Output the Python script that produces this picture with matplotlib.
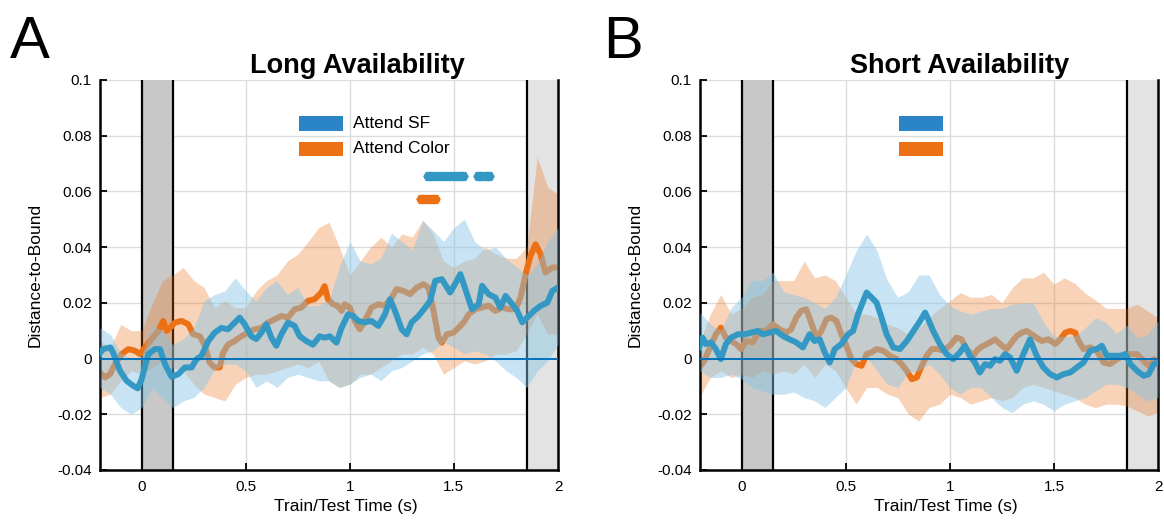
import numpy as np
import matplotlib
matplotlib.use('Agg')
import matplotlib.pyplot as plt
from matplotlib.patches import Rectangle

plt.rcParams['font.family'] = ['Liberation Sans', 'DejaVu Sans']

# ---- data ----
# Long availability: mean lines
long_sf_t = [-0.2, -0.184, -0.15, -0.136, -0.104, -0.072, -0.04, -0.019, 0, 0.032, 0.064, 0.088,
             0.112, 0.144, 0.176, 0.208, 0.24, 0.264, 0.288, 0.32, 0.351, 0.383, 0.415, 0.447,
             0.471, 0.495, 0.527, 0.551, 0.575, 0.599, 0.623, 0.647, 0.671, 0.703, 0.735, 0.759,
             0.791, 0.823, 0.855, 0.879, 0.904, 0.936, 0.96, 0.992, 1.016, 1.04, 1.072, 1.104,
             1.137, 1.169, 1.193, 1.217, 1.249, 1.273, 1.297, 1.33, 1.362, 1.386, 1.41, 1.442,
             1.482, 1.514, 1.531, 1.555, 1.587, 1.619, 1.635, 1.667, 1.699, 1.723, 1.748, 1.78,
             1.804, 1.828, 1.852, 1.884, 1.916, 1.949, 1.973, 2.0]
long_sf = [0.002, 0.0034, 0.004, 0.002, -0.0044, -0.008, -0.0098, -0.0107, -0.0074, 0.0016, 0.0034, 0.0034,
           -0.002, -0.0066, -0.0056, -0.0032, -0.0032, -0.0002, 0.001, 0.0063, 0.0093, 0.011, 0.0105, 0.0129,
           0.0147, 0.0123, 0.008, 0.007, 0.0093, 0.0123, 0.0075, 0.0046, 0.0087, 0.0129, 0.0117, 0.008,
           0.0063, 0.005, 0.008, 0.0075, 0.008, 0.0057, 0.011, 0.0159, 0.0153, 0.0135, 0.013, 0.0135,
           0.0117, 0.0159, 0.0213, 0.0171, 0.0105, 0.0087, 0.013, 0.0153, 0.0183, 0.0207, 0.0279, 0.0285,
           0.0237, 0.0279, 0.0303, 0.0249, 0.0177, 0.0195, 0.0261, 0.0231, 0.0219, 0.0183, 0.0225, 0.0195,
           0.0171, 0.013, 0.0147, 0.0171, 0.0189, 0.0201, 0.0243, 0.0255]

long_col_t = [-0.2, -0.176, -0.152, -0.128, -0.096, -0.064, -0.032, -0.008, 0.016, 0.048, 0.08, 0.104,
              0.12, 0.136, 0.16, 0.192, 0.224, 0.248, 0.28, 0.304, 0.327, 0.351, 0.375, 0.391,
              0.415, 0.447, 0.479, 0.511, 0.543, 0.575, 0.607, 0.639, 0.671, 0.703, 0.735, 0.767,
              0.799, 0.831, 0.863, 0.879, 0.895, 0.919, 0.94, 0.96, 0.976, 1.0, 1.024, 1.048,
              1.072, 1.104, 1.137, 1.169, 1.201, 1.225, 1.257, 1.289, 1.322, 1.354, 1.378, 1.402,
              1.426, 1.442, 1.466, 1.498, 1.522, 1.547, 1.571, 1.603, 1.635, 1.667, 1.699, 1.732,
              1.764, 1.796, 1.82, 1.844, 1.868, 1.892, 1.916, 1.94, 1.973, 2.0]
long_col = [-0.005, -0.0068, -0.0056, -0.002, 0.0016, 0.0034, 0.0028, 0.0016, 0.004, 0.007, 0.0099, 0.0135,
            0.0099, 0.011, 0.0129, 0.0135, 0.0123, 0.0087, 0.008, 0.0045, -0.0015, -0.0032, -0.0032, 0.002,
            0.005, 0.0063, 0.008, 0.0093, 0.0105, 0.011, 0.0129, 0.0141, 0.0153, 0.0147, 0.0177, 0.0183,
            0.0207, 0.0213, 0.0237, 0.026, 0.0213, 0.0195, 0.019, 0.0171, 0.0195, 0.0183, 0.0135, 0.0105,
            0.0135, 0.0183, 0.0195, 0.019, 0.0219, 0.0249, 0.0243, 0.0231, 0.0255, 0.0267, 0.0255, 0.0171,
            0.0075, 0.0057, 0.0087, 0.0093, 0.011, 0.013, 0.0159, 0.0177, 0.0183, 0.019, 0.0171, 0.0183,
            0.0177, 0.0177, 0.0219, 0.0303, 0.0369, 0.041, 0.0375, 0.0309, 0.0327, 0.0327]

# Short availability: mean lines
short_sf_t = [-0.204, -0.188, -0.172, -0.148, -0.124, -0.1, -0.076, -0.051, -0.019, 0.013, 0.045, 0.077,
              0.101, 0.133, 0.166, 0.198, 0.23, 0.262, 0.294, 0.326, 0.35, 0.375, 0.399, 0.423,
              0.447, 0.479, 0.511, 0.535, 0.559, 0.584, 0.6, 0.624, 0.648, 0.672, 0.696, 0.728,
              0.76, 0.793, 0.825, 0.857, 0.881, 0.896, 0.92, 0.952, 0.984, 1.016, 1.048, 1.072,
              1.096, 1.12, 1.144, 1.169, 1.193, 1.217, 1.241, 1.265, 1.289, 1.321, 1.353, 1.385,
              1.417, 1.449, 1.482, 1.514, 1.546, 1.578, 1.61, 1.642, 1.674, 1.706, 1.73, 1.754,
              1.787, 1.819, 1.843, 1.867, 1.899, 1.931, 1.955, 1.979, 2.0]
short_sf = [0.004, 0.0075, 0.0052, 0.0058, 0.0034, -0.0002, 0.0052, 0.0075, 0.0087, 0.0087, 0.0093, 0.0099,
            0.0087, 0.0093, 0.0099, 0.0081, 0.0069, 0.0058, 0.004, 0.0087, 0.0063, 0.0069, 0.0022, -0.0014,
            0.0034, 0.0052, 0.0087, 0.0099, 0.0159, 0.0207, 0.0237, 0.0219, 0.0201, 0.0147, 0.0087, 0.004,
            0.0034, 0.0063, 0.0099, 0.0135, 0.0165, 0.0141, 0.0099, 0.0052, 0.0016, -0.0002, 0.0022, 0.0046,
            0.001, -0.0014, -0.005, -0.002, -0.0026, -0.0002, -0.0008, 0.0016, 0.0004, -0.0044, 0.0016, 0.0069,
            0.001, -0.0032, -0.0056, -0.0068, -0.0056, -0.005, -0.0032, -0.0014, 0.0028, 0.0034, 0.0046, 0.001,
            0.001, 0.001, 0.0016, -0.002, -0.0044, -0.0062, -0.0056, -0.002, -0.0014]

short_col_t = [-0.204, -0.18, -0.148, -0.124, -0.1, -0.076, -0.051, -0.027, -0.003, 0.021, 0.053, 0.085,
               0.117, 0.15, 0.182, 0.214, 0.238, 0.262, 0.286, 0.31, 0.334, 0.359, 0.383, 0.407,
               0.431, 0.455, 0.479, 0.503, 0.527, 0.551, 0.576, 0.6, 0.624, 0.648, 0.68, 0.712,
               0.744, 0.768, 0.793, 0.817, 0.841, 0.865, 0.889, 0.913, 0.944, 0.968, 1.0, 1.032,
               1.056, 1.08, 1.112, 1.136, 1.161, 1.193, 1.217, 1.241, 1.273, 1.297, 1.321, 1.345,
               1.369, 1.393, 1.417, 1.441, 1.474, 1.506, 1.53, 1.554, 1.578, 1.602, 1.618, 1.642,
               1.674, 1.706, 1.738, 1.77, 1.802, 1.835, 1.867, 1.899, 1.931, 1.955, 1.979, 2.0]
short_col = [-0.0032, -0.0008, 0.0046, 0.0087, 0.0111, 0.0075, 0.0063, 0.0052, 0.0034, 0.0063, 0.0058, 0.0099,
             0.0099, 0.0123, 0.0105, 0.0093, 0.0105, 0.0147, 0.0171, 0.0177, 0.0129, 0.0075, 0.0099, 0.0141,
             0.0147, 0.0135, 0.0087, 0.0046, -0.0002, -0.002, -0.0026, 0.0016, 0.0022, 0.0034, 0.0028, 0.001,
             -0.0002, -0.002, -0.0044, -0.0074, -0.0068, -0.0026, 0.001, 0.0034, 0.0034, 0.0028, 0.0046, 0.0075,
             0.0069, 0.0034, 0.001, 0.0034, 0.0046, 0.0058, 0.0069, 0.0052, 0.0034, 0.0058, 0.0081, 0.0093,
             0.0099, 0.0087, 0.0075, 0.0063, 0.0069, 0.0052, 0.0069, 0.0093, 0.0099, 0.0093, 0.0063, 0.0034,
             0.004, 0.0028, -0.0014, -0.002, -0.0002, 0.001, 0.0016, 0.0016, -0.0008, -0.0026, -0.0002, -0.0014]

# confidence bands, sampled every 50 ms from -0.2 to 2.0 s
band_t = np.round(np.arange(-0.2, 2.001, 0.05), 2)

long_sf_hi = [0.011, 0.0087, 0.002, 0.0, 0.001, 0.012, 0.010, 0.005, 0.007, 0.011, 0.0207, 0.023,
              0.0243, 0.029, 0.0243, 0.0207, 0.0255, 0.028, 0.023, 0.0255, 0.019, 0.019, 0.021, 0.033,
              0.042, 0.035, 0.034, 0.036, 0.045, 0.042, 0.039, 0.0496, 0.046, 0.042, 0.047, 0.050,
              0.042, 0.039, 0.040, 0.036, 0.033, 0.030, 0.034, 0.042, 0.047]
long_sf_lo = [-0.0104, -0.0128, -0.0176, -0.020, -0.0176, -0.0104, -0.014, -0.0176, -0.0152, -0.014, -0.0104, -0.004,
              -0.002, -0.002, -0.0044, -0.0104, -0.008, -0.0104, -0.0068, -0.0056, -0.0068, -0.008, -0.008, -0.0104,
              -0.0092, -0.0068, -0.0056, -0.008, -0.0044, -0.0032, -0.0008, 0.0016, 0.0028, 0.006, 0.004, 0.0016,
              0.0028, 0.0016, -0.0008, -0.0044, -0.0068, -0.0104, -0.0044, -0.0008, 0.005]
long_col_hi = [0.0063, 0.004, 0.0123, 0.010, 0.010, 0.0195, 0.028, 0.030, 0.0327, 0.028, 0.0255, 0.0183,
               0.0207, 0.0183, 0.0183, 0.0243, 0.028, 0.030, 0.035, 0.0375, 0.042, 0.047, 0.049, 0.040,
               0.030, 0.035, 0.040, 0.0436, 0.040, 0.0448, 0.0436, 0.0496, 0.0448, 0.035, 0.0328, 0.035,
               0.036, 0.040, 0.0376, 0.036, 0.036, 0.040, 0.0724, 0.0616, 0.059]
long_col_lo = [-0.014, -0.0128, -0.008, -0.0044, -0.0056, -0.0032, -0.0008, -0.0032, -0.0044, -0.0092, -0.0128, -0.014,
               -0.0152, -0.0092, -0.0068, -0.0056, -0.0056, -0.0044, -0.0032, -0.002, -0.0032, -0.001, -0.008, -0.0104,
               -0.0092, -0.0056, -0.0056, -0.0032, -0.0008, 0.0016, 0.0016, 0.004, 0.0016, -0.0056, -0.0032, -0.0008,
               -0.002, -0.0008, 0.0016, 0.0016, 0.0028, 0.0088, 0.016, 0.0088, 0.0088]

short_sf_hi = [0.0165, 0.0123, 0.010, 0.0183, 0.022, 0.028, 0.028, 0.031, 0.024, 0.023, 0.022, 0.020,
               0.018, 0.022, 0.030, 0.0387, 0.0447, 0.0387, 0.028, 0.022, 0.024, 0.030, 0.030, 0.023,
               0.019, 0.017, 0.016, 0.017, 0.018, 0.018, 0.0195, 0.020, 0.020, 0.013, 0.008, 0.008,
               0.008, 0.011, 0.0147, 0.013, 0.009, 0.012, 0.0075, 0.0087, 0.0135]
short_sf_lo = [-0.0044, -0.0068, -0.0068, -0.0056, -0.0074, -0.0104, -0.0116, -0.0128, -0.0128, -0.012, -0.014, -0.0152,
               -0.0176, -0.014, -0.0104, -0.001, 0.0004, -0.0044, -0.0092, -0.0104, -0.005, -0.0044, -0.002, -0.0056,
               -0.0104, -0.0128, -0.0104, -0.0104, -0.014, -0.0176, -0.0194, -0.0164, -0.0152, -0.0164, -0.0188, -0.0164,
               -0.0152, -0.014, -0.0116, -0.0092, -0.0092, -0.0104, -0.0128, -0.0152, -0.014]
short_col_hi = [0.0063, 0.016, 0.023, 0.016, 0.018, 0.022, 0.023, 0.028, 0.028, 0.028, 0.035, 0.029,
                0.030, 0.028, 0.022, 0.016, 0.016, 0.0147, 0.0123, 0.011, 0.0087, 0.011, 0.0147, 0.018,
                0.0207, 0.0237, 0.022, 0.022, 0.023, 0.020, 0.0255, 0.029, 0.029, 0.031, 0.0267, 0.029,
                0.027, 0.0235, 0.021, 0.018, 0.018, 0.018, 0.0195, 0.017, 0.0147]
short_col_lo = [-0.0134, -0.0068, -0.0044, -0.0068, -0.0056, -0.0068, -0.0044, -0.0056, -0.0044, -0.0056, -0.002, -0.0068,
                -0.002, -0.0044, -0.0104, -0.0164, -0.0104, -0.0104, -0.0128, -0.014, -0.020, -0.0224, -0.0176, -0.0164,
                -0.0128, -0.014, -0.0164, -0.0152, -0.014, -0.0152, -0.014, -0.0104, -0.0092, -0.0104, -0.0116, -0.0128,
                -0.014, -0.0164, -0.0176, -0.0164, -0.0164, -0.017, -0.0188, -0.0206, -0.0194]

# significant time windows (start, end) in s
long_sf_sig = [(1.35, 1.57), (1.589, 1.693)]
long_col_sig = [(1.316, 1.436)]
sig_y = {'sf': 0.0654, 'col': 0.0571}

xticks = [0, 0.5, 1, 1.5, 2]
xticklabels = ['0', '0.5', '1', '1.5', '2']
yticks = [-0.04, -0.02, 0, 0.02, 0.04, 0.06, 0.08, 0.1]
yticklabels = ['-0.04', '-0.02', '0', '0.02', '0.04', '0.06', '0.08', '0.1']

BLUE = '#3399c4'
ORANGE = '#ec7014'
BLUE_FILL = '#85c4e7'
LEG_BLUE = '#2a84c6'


def draw_sig(ax, windows, y, color):
    # hexagon-ended bars, like MATLAB's marker strings
    pad = 0.026
    for s, e in windows:
        ax.plot([s + pad, e - pad], [y, y], color=color, lw=6.7, solid_capstyle='butt',
                marker='H', ms=7.7, mew=0, zorder=6)


def panel(ax, title, title_x, sf_t, sf, col_t, col, sf_hi, sf_lo, col_hi, col_lo, legend_text):
    ax.set_xlim(-0.2, 2.0)
    ax.set_ylim(-0.04, 0.1)
    ax.grid(True, color='#dcdcdc', lw=1.0, zorder=0)
    ax.set_axisbelow(True)

    ax.axvspan(0, 0.15, color='#c8c8c8', lw=0, zorder=1)
    ax.axvspan(1.85, 2.0, color='#e3e3e3', lw=0, zorder=1)
    for xv in [0, 0.15, 1.85]:
        ax.axvline(xv, color='k', lw=1.6, zorder=1.5)

    ax.fill_between(band_t, col_lo, col_hi, color=ORANGE, alpha=0.3, lw=0, zorder=2)
    ax.plot(col_t, col, color=ORANGE, lw=4.3, zorder=2.5, solid_joinstyle='round')
    ax.fill_between(band_t, sf_lo, sf_hi, color=BLUE_FILL, alpha=0.45, lw=0, zorder=3)
    ax.plot(sf_t, sf, color=BLUE, lw=4.3, zorder=4, solid_joinstyle='round')
    ax.axhline(0, color='#0072bd', lw=1.4, zorder=5)

    # legend swatches
    ax.add_patch(Rectangle((0.757, 0.0817), 0.212, 0.0054, color=LEG_BLUE, lw=0, zorder=6))
    ax.add_patch(Rectangle((0.757, 0.0728), 0.212, 0.0051, color=ORANGE, lw=0, zorder=6))
    if legend_text:
        ax.text(1.015, 0.0844, 'Attend SF', fontsize=12.5, va='center', zorder=7)
        ax.text(1.015, 0.0754, 'Attend Color', fontsize=12.5, va='center', zorder=7)

    ax.set_xticks(xticks)
    ax.set_xticklabels(xticklabels)
    ax.set_yticks(yticks)
    ax.set_yticklabels(yticklabels)
    ax.tick_params(direction='in', length=5, width=1.3, labelsize=11, pad=7)
    ax.tick_params(axis='y', pad=6)
    for side in ['left', 'bottom', 'right']:
        ax.spines[side].set_linewidth(1.8)
    ax.spines['top'].set_visible(False)

    ax.set_xlabel('Train/Test Time (s)', fontsize=12.5)
    ax.xaxis.set_label_coords(0.537, -0.075)
    ax.set_ylabel('Distance-to-Bound', fontsize=12.5)
    ax.yaxis.set_label_coords(-0.125, 0.5)
    ax.text(title_x, 1.018, title, transform=ax.transAxes, ha='center', va='baseline',
            fontsize=19.5, fontweight='bold')


fig = plt.figure(figsize=(11.64, 5.2), dpi=100)
axA = fig.add_axes([0.0859, 0.0962, 0.3935, 0.75])
axB = fig.add_axes([0.6014, 0.0962, 0.3935, 0.75])

panel(axA, 'Long Availability', 0.561, long_sf_t, long_sf, long_col_t, long_col,
      long_sf_hi, long_sf_lo, long_col_hi, long_col_lo, True)
draw_sig(axA, long_sf_sig, sig_y['sf'], BLUE)
draw_sig(axA, long_col_sig, sig_y['col'], ORANGE)

panel(axB, 'Short Availability', 0.567, short_sf_t, short_sf, short_col_t, short_col,
      short_sf_hi, short_sf_lo, short_col_hi, short_col_lo, False)

fig.text(0.0086, 0.888, 'A', fontsize=43, va='baseline')
fig.text(0.518, 0.888, 'B', fontsize=43, va='baseline')

fig.savefig('out.png', dpi=100)
